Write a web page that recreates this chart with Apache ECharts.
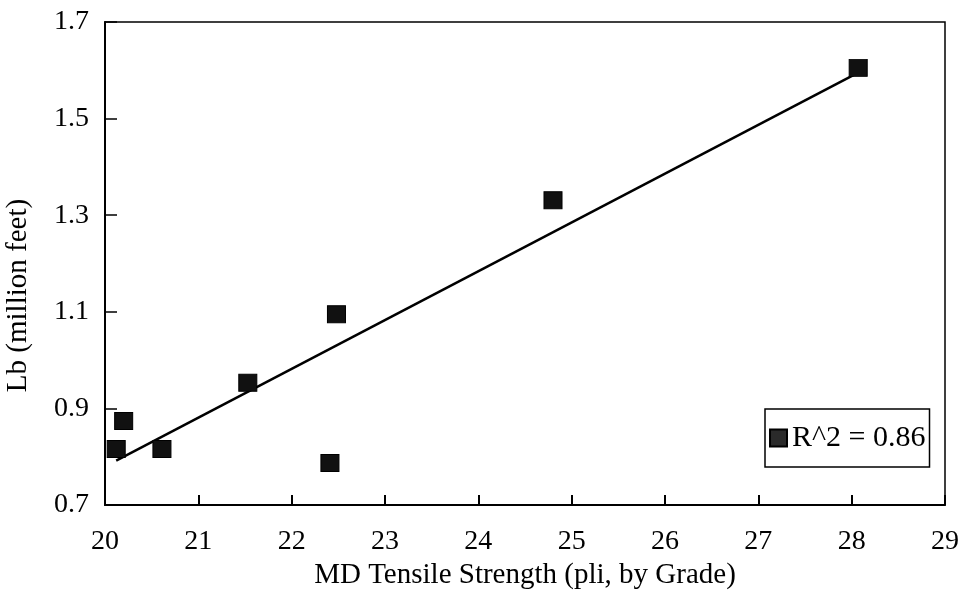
<!DOCTYPE html>
<html>
<head>
<meta charset="UTF-8">
<title>Lb vs MD Tensile Strength</title>
<script src="https://cdn.jsdelivr.net/npm/echarts@6/dist/echarts.min.js"></script>
<style>
  html, body { margin: 0; padding: 0; background: #fff; }
</style>
</head>
<body>
<div id="chart" style="width: 963px; height: 597px;"></div>
<script>
// data
var tensile = [20.12, 20.20, 20.61, 21.53, 22.41, 22.48, 24.80, 28.07];
var lb      = [0.816, 0.874, 0.816, 0.953, 0.787, 1.095, 1.331, 1.605];
// fitted line end points, as drawn
var fitX = [20.12, 28.07];
var fitY = [0.792, 1.595];
var seriesName = 'R^2 = 0.86';

var serif = "'Liberation Serif', 'Times New Roman', serif";

var points = tensile.map(function (x, i) { return [x, lb[i]]; });
var fit = fitX.map(function (x, i) { return [x, fitY[i]]; });

var chart = echarts.init(document.getElementById('chart'));
chart.setOption({
  animation: false,
  backgroundColor: '#fff',
  grid: {
    left: 105, right: 18, top: 22, bottom: 92,
    outerBoundsMode: 'none', containLabel: false,
    show: true, borderColor: '#000', borderWidth: 1.5
  },
  legend: {
    left: 765, top: 409,
    data: [{ name: seriesName, icon: 'rect', itemStyle: { color: '#2a2a2a', opacity: 1 } }],
    itemWidth: 17, itemHeight: 17, itemGap: 4,
    padding: [14, 4, 14, 4],
    borderColor: '#000', borderWidth: 1.5,
    backgroundColor: '#fff',
    textStyle: { fontFamily: serif, fontSize: 30, color: '#000' }
  },
  xAxis: {
    type: 'value', min: 20, max: 29, interval: 1,
    name: 'MD Tensile Strength (pli, by Grade)',
    nameLocation: 'middle', nameGap: 46,
    nameTextStyle: { fontFamily: serif, fontSize: 29, color: '#000' },
    axisLine: { lineStyle: { color: '#000', width: 2 } },
    axisTick: { inside: true, length: 10, lineStyle: { color: '#000', width: 2 } },
    axisLabel: { fontFamily: serif, fontSize: 28, color: '#000', margin: 23 },
    splitLine: { show: false }
  },
  yAxis: {
    type: 'value', min: 0.7, max: 1.7, interval: 0.2,
    name: 'Lb (million feet)',
    nameLocation: 'middle', nameGap: 72,
    nameTextStyle: { fontFamily: serif, fontSize: 29, color: '#000', padding: [0, 64, 0, 0] },
    axisLine: { lineStyle: { color: '#000', width: 2 } },
    axisTick: { inside: true, length: 12, lineStyle: { color: '#000', width: 1.5 } },
    axisLabel: {
      fontFamily: serif, fontSize: 28, color: '#000', margin: 16,
      formatter: function (v) { return v.toFixed(1); }
    },
    splitLine: { show: false }
  },
  series: [
    {
      name: 'fit',
      type: 'line',
      data: fit,
      showSymbol: false,
      lineStyle: { color: '#000', width: 2.5 },
      z: 1
    },
    {
      name: seriesName,
      type: 'scatter',
      data: points,
      symbol: 'rect',
      symbolSize: [18, 17],
      itemStyle: { color: '#111', borderColor: '#000', borderWidth: 1, opacity: 1 },
      z: 2
    }
  ]
});
</script>
</body>
</html>
